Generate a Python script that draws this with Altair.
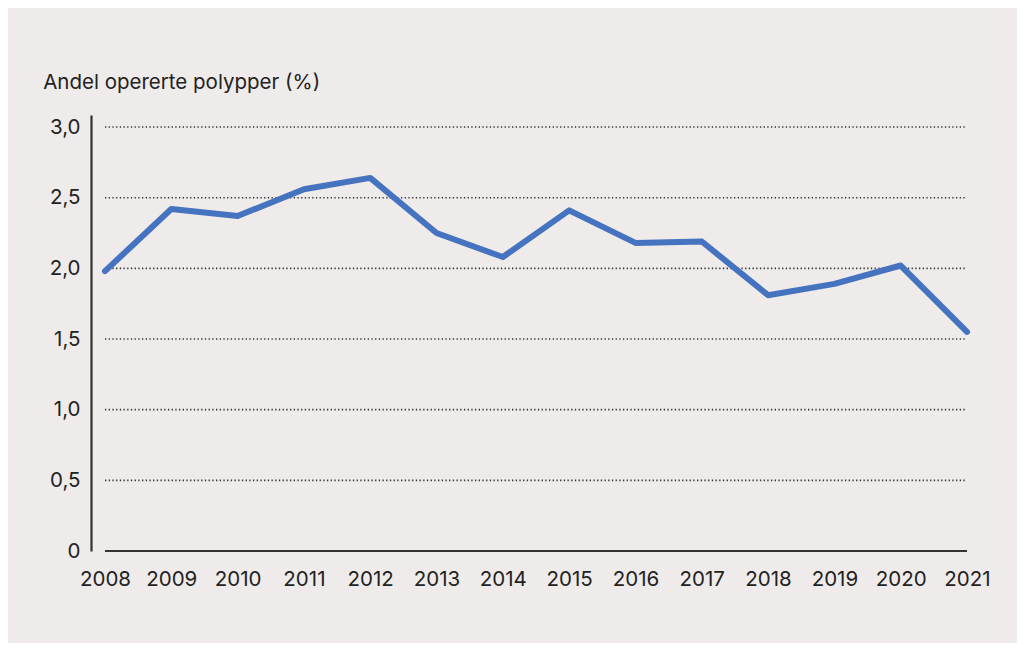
import altair as alt
import pandas as pd

years = [2008, 2009, 2010, 2011, 2012, 2013, 2014, 2015, 2016, 2017, 2018, 2019, 2020, 2021]
values = [1.98, 2.42, 2.37, 2.56, 2.64, 2.25, 2.08, 2.41, 2.18, 2.19, 1.81, 1.89, 2.02, 1.55]
grid_values = [0.5, 1.0, 1.5, 2.0, 2.5, 3.0]
y_ticks = [0, 0.5, 1.0, 1.5, 2.0, 2.5, 3.0]
title_text = "Andel opererte polypper (%)"

FONT = "Inter"
BG = "#EEEBEA"
LINE = "#4673C0"
AXIS = "#333333"

df = pd.DataFrame({"year": years, "value": values})
grid_df = pd.DataFrame({"value": grid_values, "year": [years[0]] * len(grid_values), "year2": [years[-1]] * len(grid_values)})
base_df = pd.DataFrame({"value": [0], "year": [years[0]], "year2": [years[-1]]})

xscale = alt.Scale(domain=[years[0] - 0.211, years[-1] + 0.211], nice=False, zero=False)
yscale = alt.Scale(domain=[0, 3.085], nice=False)

x_axis = alt.Axis(
    values=years, format="d", title=None, domain=False, ticks=False, grid=False,
    labelFont=FONT, labelFontSize=20.5, labelColor="#222222", labelPadding=18,
    labelFlush=False, labelOverlap=False,
)
y_axis = alt.Axis(
    values=y_ticks, title=None, domain=True, domainColor=AXIS, domainWidth=2.2,
    ticks=False, grid=False,
    labelExpr="datum.value == 0 ? '0' : replace(format(datum.value, '.1f'), '.', ',')",
    labelFont=FONT, labelFontSize=20.5, labelColor="#222222", labelPadding=11,
)

X = alt.X("year:Q", scale=xscale, axis=x_axis)
Y = alt.Y("value:Q", scale=yscale, axis=y_axis)

grid = alt.Chart(grid_df).mark_rule(color=AXIS, strokeWidth=1.6, strokeDash=[1.3, 2.4]).encode(
    x=X, x2="year2:Q", y=Y,
)

baseline = alt.Chart(base_df).mark_rule(color=AXIS, strokeWidth=2.2).encode(
    x=X, x2="year2:Q", y=Y,
)

line = alt.Chart(df).mark_line(color=LINE, strokeWidth=6, strokeJoin="round", strokeCap="round").encode(
    x=X, y=Y,
)

chart = alt.layer(grid, baseline, line).properties(
    width=890,
    height=436,
    background=BG,
    padding={"left": 83, "top": 107, "right": 36, "bottom": 92},
    autosize=alt.AutoSizeParams(type="none"),
    title=alt.TitleParams(
        text=title_text, anchor="start", dx=-6, offset=6, baseline="alphabetic",
        font=FONT, fontSize=20.5, fontWeight="normal", color="#222222",
    ),
).configure_view(stroke=None)

chart.save("out.html", embed_options={"renderer": "svg", "actions": False})
